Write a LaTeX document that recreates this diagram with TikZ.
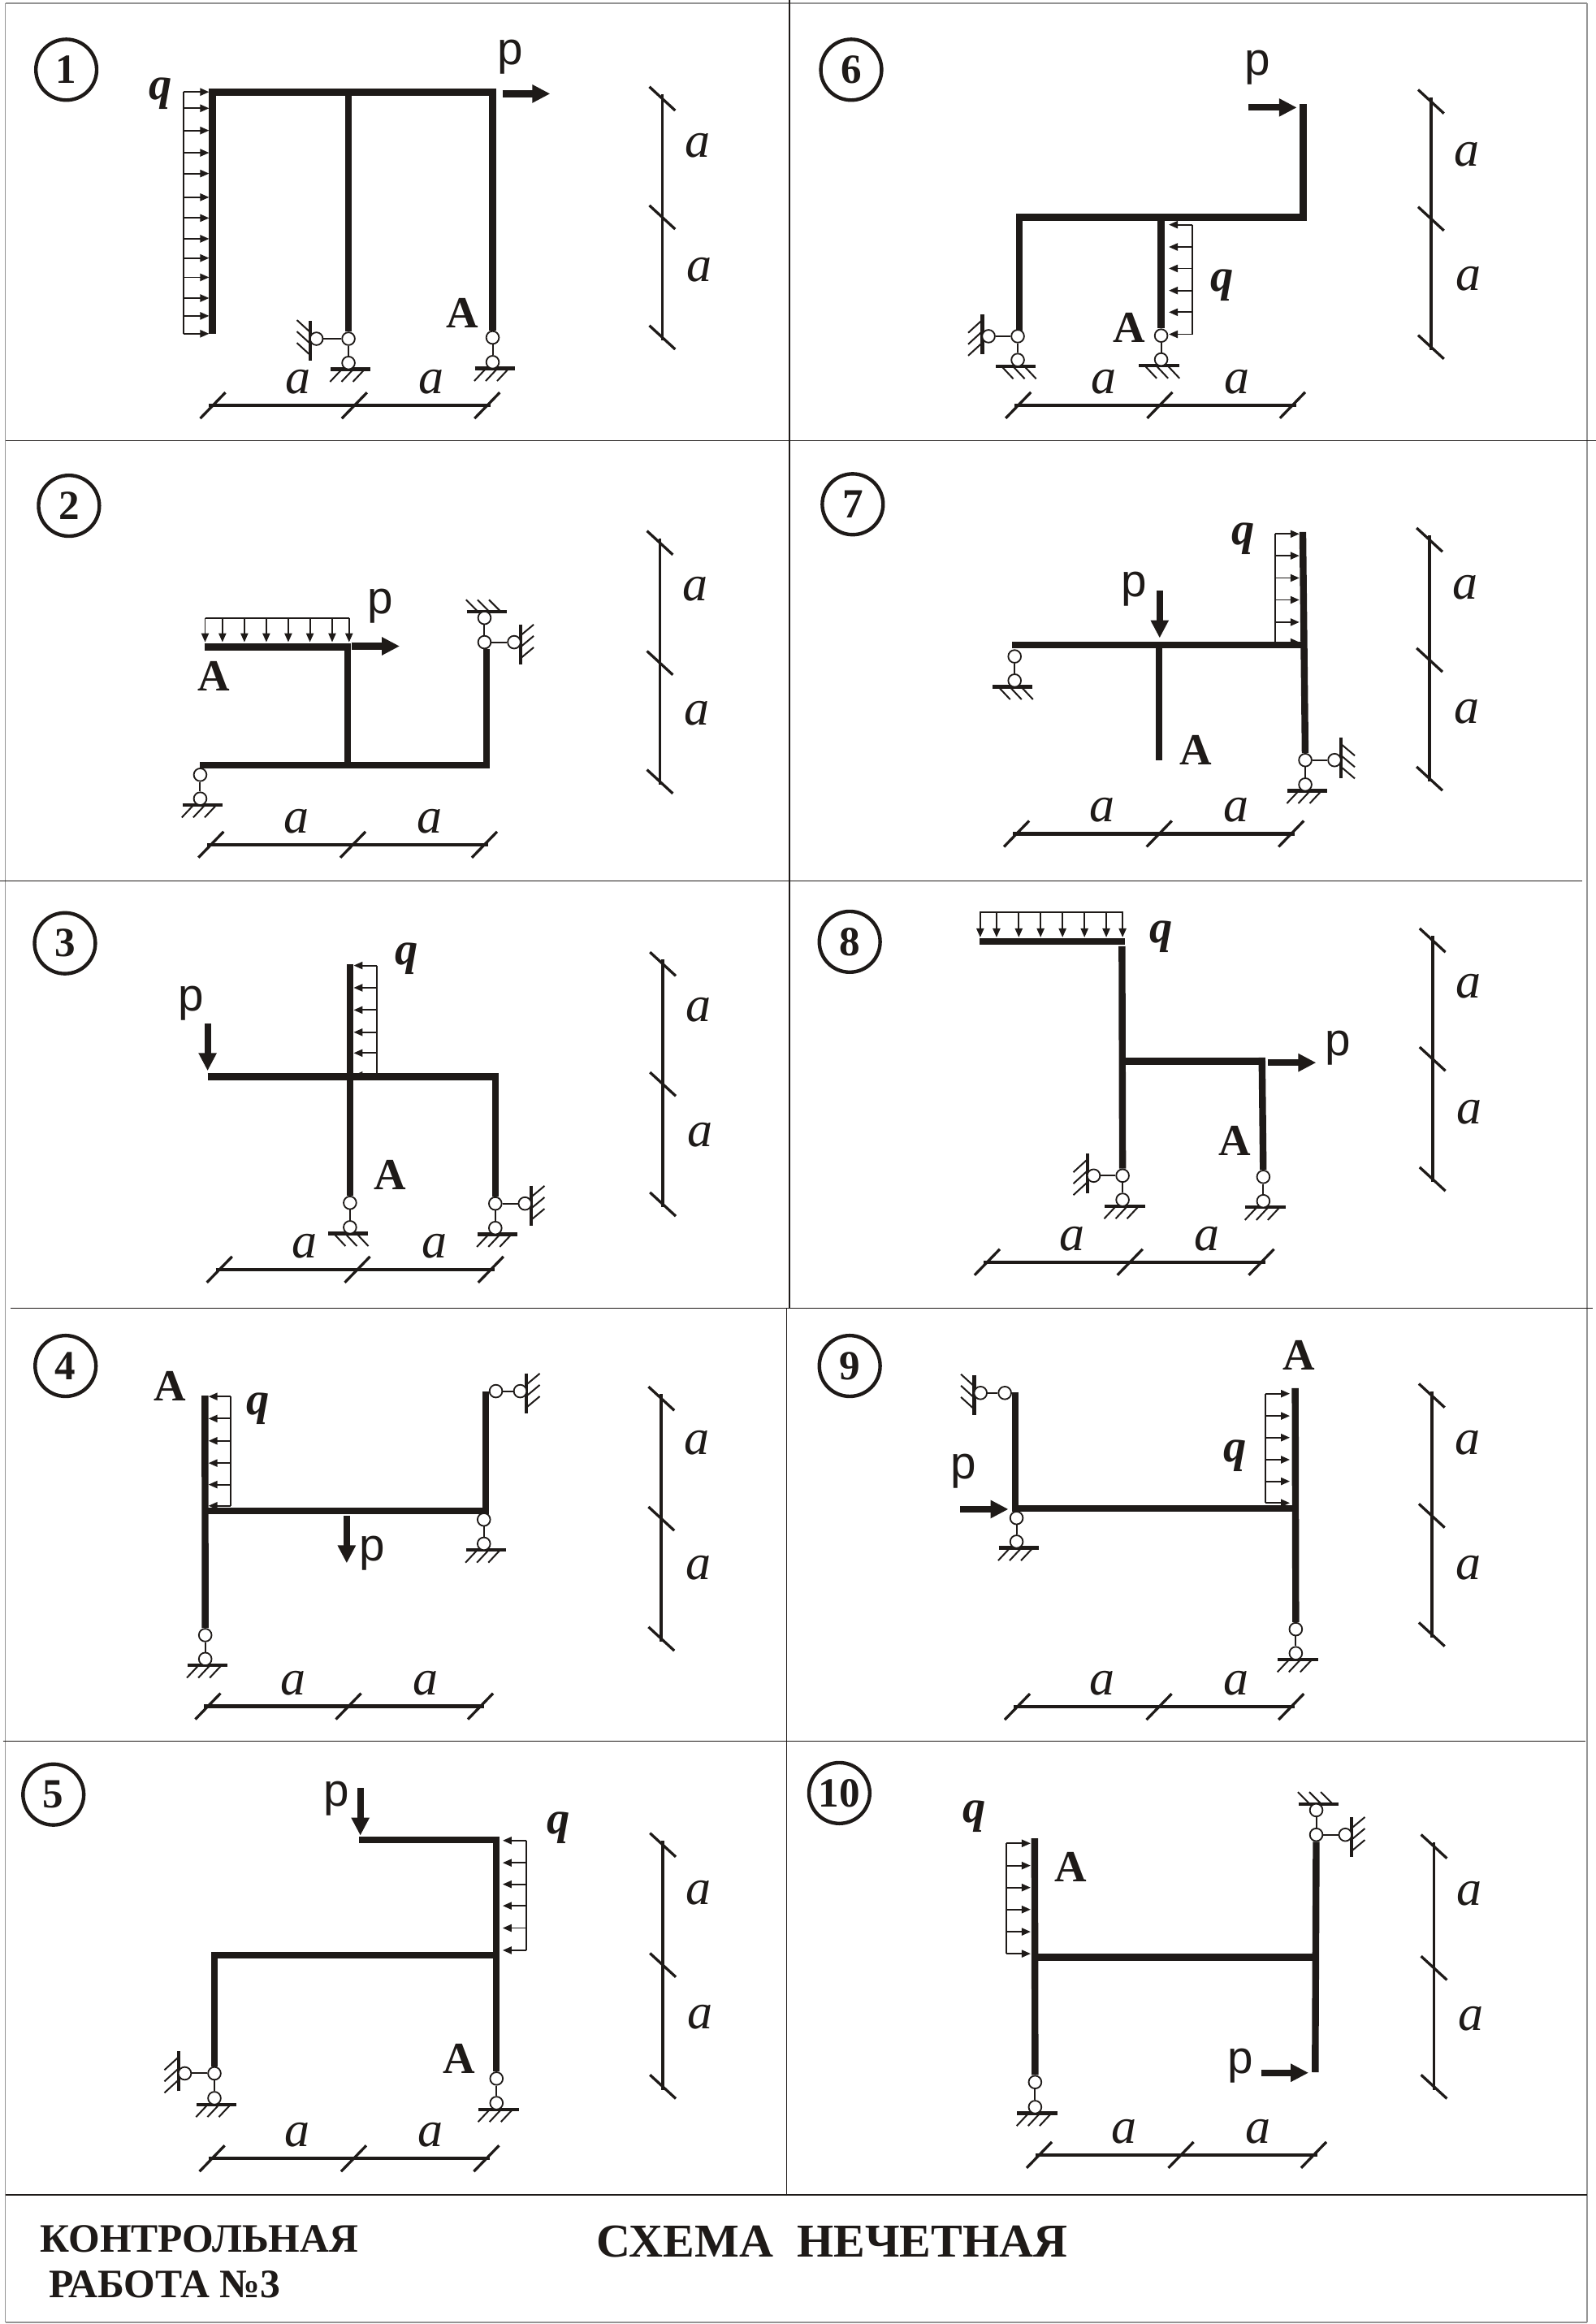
\documentclass[tikz,border=0pt]{standalone}
\usepackage{fontspec}
\setmainfont{Liberation Serif}
\newfontfamily\arialfont{Liberation Sans}
\usetikzlibrary{calc,arrows.meta}

\definecolor{ink}{HTML}{1E1A18}
\tikzset{
	frameline/.style={line width=.8pt,draw=ink},
	edgeline/.style={line width=1pt,draw=black!42},
	bar/.style={line width=4.6pt,draw=ink,line join=miter},
	hinge/.style={circle,draw=ink,fill=white,minimum size=8.6pt,inner sep=0pt,line width=1pt},
	link/.style={line width=1.1pt,draw=ink},
	ground/.style={line width=2.3pt,draw=ink},
	hatch/.style={line width=1.1pt,draw=ink},
	force/.style={line width=4.5pt,draw=ink,-{Triangle[length=12pt,width=11.5pt]},fill=ink},
	qarrow/.style={line width=1pt,draw=ink,-{Triangle[length=6pt,width=5pt]},fill=ink},
	qedge/.style={line width=1pt,draw=ink},
	dimh/.style={line width=2.4pt,draw=ink},
	dimv/.style={line width=2pt,draw=ink},
	dimtick/.style={line width=1.8pt,draw=ink},
	numcircle/.style={circle,draw=ink,line width=2.4pt,minimum size=41pt,inner sep=0pt,text=ink,font=\fontsize{28}{30}\selectfont\bfseries},
	lenlabel/.style={inner sep=0pt,yshift=-1pt,text=ink,font=\fontsize{34}{36}\selectfont\itshape},
	qlabel/.style={inner sep=0pt,yshift=-2.5pt,text=ink,font=\fontsize{31}{33}\selectfont\bfseries\itshape},
	plabel/.style={inner sep=0pt,yshift=-2.5pt,text=ink,font=\fontsize{31}{33}\selectfont\arialfont},
	alabel/.style={inner sep=0pt,text=ink,font=\fontsize{30}{32}\selectfont\bfseries},
	titlelabel/.style={inner sep=0pt,anchor=base west,text=ink,font=\bfseries}
}

% far hinge, base hinge, direction, length, along the ground, hatch
\newcommand{\support}[9]{
	\coordinate (#1c) at ($(#2)+#5*(#3,#4)$);
	\coordinate (#1g) at ($(#1c)+4.2*(#3,#4)$);
	\draw[ground] ($(#1g)-12*(#6,#7)$) -- ($(#1g)+15*(#6,#7)$);
	\foreach \hh in {-4.4,3.3,11}
		\draw[hatch] ($(#1g)+\hh*(#6,#7)$) -- ++(#8,#9);
	\node[hinge] (#1) at (#1c) {};
	\draw[link] (#2) -- (#1);
}
\newcommand{\supDl}[3]{\support{#1}{#2}{0}{1}{#3}{1}{0}{-8}{8.5}}
\newcommand{\supDr}[3]{\support{#1}{#2}{0}{1}{#3}{-1}{0}{8}{8.5}}
\newcommand{\supLd}[3]{\support{#1}{#2}{-1}{0}{#3}{0}{-1}{-9.5}{8.7}}
\newcommand{\supLu}[3]{\support{#1}{#2}{-1}{0}{#3}{0}{1}{-9}{-8.2}}
\newcommand{\supRu}[3]{\support{#1}{#2}{1}{0}{#3}{0}{1}{9}{-7.5}}
\newcommand{\supRd}[3]{\support{#1}{#2}{1}{0}{#3}{0}{-1}{9.5}{8}}
\newcommand{\supT}[3]{\support{#1}{#2}{0}{-1}{#3}{1}{0}{-8}{-8}}

% lower dimension line: name, three ticks, height
\newcommand{\dimH}[5]{
	\coordinate (#1a) at (#2,#5);
	\coordinate (#1b) at (#3,#5);
	\coordinate (#1c) at (#4,#5);
	\draw[dimh] ($(#1a)+(-2.5,0)$) -- ($(#1c)+(2.5,0)$);
	\foreach \pp in {#1a,#1b,#1c}
		\draw[dimtick] ($(\pp)+(-8.5,8.75)$) -- ($(\pp)+(8.5,-8.75)$);
	\node[lenlabel] (#1l) at ($(#1a)+(57.5,-16.8)$) {a};
	\node[lenlabel] (#1r) at ($(#1b)+(52,-16.8)$) {a};
}
% side dimension line: name, x, three ticks, two label heights
\newcommand{\dimV}[7]{
	\coordinate (#1a) at (#2,#3);
	\coordinate (#1b) at (#2,#4);
	\coordinate (#1c) at (#2,#5);
	\draw[dimv] ($(#1a)+(0,-3)$) -- ($(#1c)+(0,2)$);
	\foreach \pp in {#1a,#1b,#1c}
		\draw[dimtick] ($(\pp)+(-8.7,-8)$) -- ($(\pp)+(8.7,8)$);
	\node[lenlabel] (#1l) at ({#2+24},#6) {a};
	\node[lenlabel] (#1r) at ({#2+25},#7) {a};
}
% load on a column: outer x, tip x, first y, last y, arrows
\newcommand{\loadH}[5]{
	\draw[qedge] (#1,#3) -- (#1,#4);
	\foreach \yy in {#5}
		\draw[qarrow] (#1,\yy) -- (#2,\yy);
}
% load on a beam: outer y, tip y, first x, last x, arrows
\newcommand{\loadV}[5]{
	\draw[qedge] (#3,#1) -- (#4,#1);
	\foreach \xx in {#5}
		\draw[qarrow] (\xx,#1) -- (\xx,#2);
}

\begin{document}
\begin{tikzpicture}[x=1pt,y=-1pt]
	\useasboundingbox (0,0) rectangle (1076,1567);

	% sheet
	\draw[edgeline] (3.6,2) -- (1070,2);
	\draw[edgeline] (3.6,2) -- (3.6,1566);
	\draw[edgeline] (1070,2) -- (1070,1566);
	\draw[edgeline,line width=1.4pt] (3.6,1566) -- (1070,1566);
	\draw[frameline] (532.3,0) -- (532.3,882);
	\draw[frameline] (530.5,882) -- (530.5,1480);
	\draw[frameline] (4,297) -- (1076,297);
	\draw[frameline] (0,594) -- (1067,594);
	\draw[frameline] (7.3,882) -- (1074,882);
	\draw[frameline] (2,1174) -- (1069,1174);
	\draw[frameline,line width=1.3pt] (3.6,1480) -- (1070,1480);

	% 1
	\node[numcircle] (N1) at (44.7,47) {1};
	\coordinate (A1) at (143.2,225);
	\coordinate (B1) at (143.2,62.2);
	\coordinate (C1) at (332.2,62.2);
	\coordinate (D1) at (235,62.2);
	\node[hinge] (H1a) at (235,228.4) {};
	\node[hinge] (H1b) at (332.2,227.6) {};
	\draw[bar] (A1) -- (B1) -- ($(C1)+(2.2,0)$);
	\draw[bar] (D1) -- (H1a);
	\draw[bar] (C1) -- (H1b);
	\supDl{S1a}{H1a}{16.3}
	\supLu{S1b}{H1a}{21.6}
	\supDl{S1c}{H1b}{16.6}
	\loadH{124}{141}{62}{225}{62,73,88,103,117,133,147,161,174,187,201,213,225}
	\coordinate (F1a) at (339,63.2);
	\coordinate (F1b) at (371,63.2);
	\draw[force] (F1a) -- (F1b);
	\node[qlabel] (Q1) at (108,60.7) {q};
	\node[plabel] (P1) at (344,36) {p};
	\node[alabel] (L1) at (311.6,211.3) {A};
	\dimH{X1}{143.5}{239}{328.5}{273.4}
	\dimV{Y1}{446.6}{66.5}{146.5}{227.5}{97}{181}

	% 2
	\node[numcircle] (N2) at (46.5,341) {2};
	\coordinate (A2) at (138,436.3);
	\coordinate (B2) at (234.5,436.3);
	\coordinate (C2) at (234.5,516);
	\coordinate (D2) at (135,516);
	\coordinate (E2) at (328,516);
	\node[hinge] (H2a) at (135,522.4) {};
	\node[hinge] (H2b) at (326.7,433) {};
	\draw[bar] (A2) -- (B2) -- (C2);
	\draw[bar] (D2) -- ($(E2)+(2.2,0)$);
	\draw[bar] (E2) -- (328,437.5);
	\supDl{S2a}{H2a}{16.1}
	\supT{S2b}{H2b}{16.4}
	\supRu{S2c}{H2b}{20}
	\loadV{416.6}{433}{138.3}{235.4}{138.3,150,164.8,179.6,194.4,209,224,235.4}
	\coordinate (F2a) at (237,435.7);
	\coordinate (F2b) at (269.5,435.7);
	\draw[force] (F2a) -- (F2b);
	\node[plabel] (P2) at (256.4,406) {p};
	\node[alabel] (L2) at (144,456) {A};
	\dimH{X2}{142.3}{238}{326.7}{569.5}
	\dimV{Y2}{445}{366}{447}{527}{396}{480}

	% 3
	\node[numcircle] (N3) at (43.8,636) {3};
	\coordinate (A3) at (140,726);
	\coordinate (B3) at (334,726);
	\coordinate (C3) at (236,650);
	\coordinate (D3) at (236,726);
	\node[hinge] (H3a) at (236,811) {};
	\node[hinge] (H3b) at (334,811.5) {};
	\draw[bar] (A3) -- ($(B3)+(2.2,0)$);
	\draw[bar] (B3) -- (H3b);
	\draw[bar] (C3) -- (H3a);
	\supDr{S3a}{H3a}{16.5}
	\supDl{S3b}{H3b}{16.5}
	\supRu{S3c}{H3b}{20}
	\loadH{254}{238.5}{651}{725}{651,666,681,696,710,725}
	\coordinate (F3a) at (140,690);
	\coordinate (F3b) at (140,722);
	\draw[force] (F3a) -- (F3b);
	\node[qlabel] (Q3) at (274,644) {q};
	\node[plabel] (P3) at (129,674) {p};
	\node[alabel] (L3) at (263,792) {A};
	\dimH{X3}{148}{241}{331}{856}
	\dimV{Y3}{447}{650}{731}{812}{680}{764}

	% 4
	\node[numcircle] (N4) at (44.2,921) {4};
	\coordinate (A4) at (138.2,941);
	\coordinate (B4) at (138.2,1018.8);
	\coordinate (C4) at (327.6,1018.8);
	\coordinate (D4) at (327.6,938.3);
	\node[hinge] (H4a) at (138.4,1102.5) {};
	\node[hinge] (H4b) at (326.3,1024.6) {};
	\node[hinge] (H4c) at (334.4,938) {};
	\draw[bar] (A4) -- (H4a);
	\draw[bar] (B4) -- (C4);
	\draw[bar] ($(C4)+(0,2.2)$) -- (D4);
	\supDl{S4a}{H4a}{16.1}
	\supDl{S4b}{H4b}{16.3}
	\supRu{S4c}{H4c}{16.4}
	\loadH{155.7}{140.6}{941.6}{1015.3}{941.6,956.5,971.5,986.5,1001,1015.3}
	\coordinate (F4a) at (233.8,1021.9);
	\coordinate (F4b) at (233.8,1054);
	\draw[force] (F4a) -- (F4b);
	\node[qlabel] (Q4) at (173.8,947.4) {q};
	\node[plabel] (P4) at (251,1045) {p};
	\node[alabel] (L4) at (114.7,934.6) {A};
	\dimH{X4}{140.2}{235}{324}{1150.5}
	\dimV{Y4}{446}{943}{1024}{1105}{972}{1056}

	% 5
	\node[numcircle] (N5) at (36,1210) {5};
	\coordinate (A5) at (242,1240.4);
	\coordinate (B5) at (334.8,1240.4);
	\coordinate (C5) at (143.6,1318.3);
	\coordinate (D5) at (334.8,1318.3);
	\node[hinge] (H5a) at (144.6,1398) {};
	\node[hinge] (H5b) at (334.8,1401.5) {};
	\draw[bar] (A5) -- ($(B5)+(2.2,0)$);
	\draw[bar] (B5) -- (H5b);
	\draw[bar] (D5) -- (C5);
	\draw[bar] (144.6,1316) -- (H5a);
	\supDl{S5a}{H5a}{16.7}
	\supLd{S5b}{H5a}{20}
	\supDl{S5c}{H5b}{16.5}
	\loadH{355}{339}{1241}{1315}{1241,1256,1270.5,1285,1300,1315}
	\coordinate (F5a) at (243,1205.7);
	\coordinate (F5b) at (243,1237.6);
	\draw[force] (F5a) -- (F5b);
	\node[qlabel] (Q5) at (376.5,1230) {q};
	\node[plabel] (P5) at (227,1210) {p};
	\node[alabel] (L5) at (309.6,1388) {A};
	\dimH{X5}{143}{238.5}{328}{1455.4}
	\dimV{Y5}{447}{1244}{1325}{1407}{1275}{1359}

	% 6
	\node[numcircle] (N6) at (574,47) {6};
	\coordinate (A6) at (878.9,70.3);
	\coordinate (B6) at (878.9,146.6);
	\coordinate (C6) at (685.4,146.6);
	\coordinate (D6) at (783,146.6);
	\node[hinge] (H6a) at (686.3,226.7) {};
	\node[hinge] (H6b) at (783,226.3) {};
	\draw[bar] (A6) -- ($(B6)+(0,2.2)$);
	\draw[bar] ($(B6)+(2.2,0)$) -- (C6);
	\draw[bar] (687.4,144.4) -- (687.4,222.7);
	\draw[bar] (D6) -- (H6b);
	\supDr{S6a}{H6a}{16}
	\supLd{S6b}{H6a}{19.7}
	\supDr{S6c}{H6b}{16.1}
	\loadH{804}{788.2}{151.5}{225.4}{151.5,166.5,181,195.9,210.5,225.4}
	\coordinate (F6a) at (842,72.5);
	\coordinate (F6b) at (874.5,72.5);
	\draw[force] (F6a) -- (F6b);
	\node[qlabel] (Q6) at (824,190) {q};
	\node[plabel] (P6) at (848,43) {p};
	\node[alabel] (L6) at (761.5,221) {A};
	\dimH{X6}{686.7}{782.1}{871.6}{273.2}
	\dimV{Y6}{965}{68.5}{147.5}{234}{103}{187}

	% 7
	\node[numcircle] (N7) at (575,340) {7};
	\coordinate (A7) at (682.7,435);
	\coordinate (B7) at (878.9,435);
	\coordinate (C7) at (781.5,435);
	\coordinate (D7) at (781.5,512.9);
	\coordinate (E7) at (878.5,358.7);
	\node[hinge] (H7a) at (684.2,442.6) {};
	\node[hinge] (H7b) at (880.2,512.5) {};
	\draw[bar] (A7) -- (B7);
	\draw[bar] (C7) -- (D7);
	\draw[bar] (E7) -- (H7b);
	\supDr{S7a}{H7a}{16.3}
	\supDl{S7b}{H7b}{16.5}
	\supRd{S7c}{H7b}{19.7}
	\loadH{859.8}{876.2}{360}{434}{360,374.7,389.7,404.5,419.5,433}
	\coordinate (F7a) at (782,398.3);
	\coordinate (F7b) at (782,430.2);
	\draw[force] (F7a) -- (F7b);
	\node[qlabel] (Q7) at (838.2,360.5) {q};
	\node[plabel] (P7) at (764.9,394.6) {p};
	\node[alabel] (L7) at (806.3,505.6) {A};
	\dimH{X7}{685.5}{781.7}{870.7}{562.2}
	\dimV{Y7}{964}{364}{445}{525}{395}{479}

	% 8
	\node[numcircle] (N8) at (573,635) {8};
	\coordinate (A8) at (660.8,634.9);
	\coordinate (B8) at (758.4,634.9);
	\coordinate (C8) at (756.6,638);
	\coordinate (D8) at (756.6,715.5);
	\coordinate (E8) at (852.8,715.5);
	\coordinate (G8) at (851,713);
	\node[hinge] (H8a) at (757,792.7) {};
	\node[hinge] (H8b) at (851.9,793.5) {};
	\draw[bar] (A8) -- (B8);
	\draw[bar] (C8) -- (H8a);
	\draw[bar] (D8) -- (E8);
	\draw[bar] (G8) -- (H8b);
	\supDl{S8a}{H8a}{16.3}
	\supLd{S8b}{H8a}{19.5}
	\supDl{S8c}{H8b}{16.4}
	\loadV{615.2}{632}{660.8}{757.5}{661,672,687,701.7,716.5,731.3,746,757}
	\coordinate (F8a) at (855,716.5);
	\coordinate (F8b) at (887.5,716.5);
	\draw[force] (F8a) -- (F8b);
	\node[qlabel] (Q8) at (783,628.9) {q};
	\node[plabel] (P8) at (902,704) {p};
	\node[alabel] (L8) at (832.4,769.4) {A};
	\dimH{X8}{665.7}{762}{850.6}{851}
	\dimV{Y8}{966}{634}{714}{795}{664}{749}

	% 9
	\node[numcircle] (N9) at (573,921) {9};
	\coordinate (A9) at (684.5,938.6);
	\coordinate (B9) at (684.5,1017);
	\coordinate (C9) at (873.4,1017);
	\coordinate (D9) at (873.4,936);
	\node[hinge] (H9a) at (677.6,939.2) {};
	\node[hinge] (H9b) at (685.5,1023.5) {};
	\node[hinge] (H9c) at (873.8,1098.5) {};
	\draw[bar] (A9) -- ($(B9)+(0,2.2)$);
	\draw[bar] (B9) -- (C9);
	\draw[bar] (D9) -- (H9c);
	\supLu{S9a}{H9a}{16.4}
	\supDl{S9b}{H9b}{16}
	\supDl{S9c}{H9c}{16.2}
	\loadH{853.3}{869.8}{939.7}{1013.4}{939.7,954.7,969.3,984.2,998.8,1013.4}
	\coordinate (F9a) at (647.5,1017.6);
	\coordinate (F9b) at (680,1017.6);
	\draw[force] (F9a) -- (F9b);
	\node[qlabel] (Q9) at (833,979) {q};
	\node[plabel] (P9) at (649.5,989.3) {p};
	\node[alabel] (L9) at (876.2,913.6) {A};
	\dimH{X9}{686}{781.6}{870.7}{1150.8}
	\dimV{Y9}{965.5}{941}{1022}{1102}{972}{1056}

	% 10
	\node[numcircle] (N10) at (566,1209) {10};
	\coordinate (A10) at (697.7,1239.5);
	\coordinate (B10) at (697.7,1319.8);
	\coordinate (C10) at (886.9,1319.8);
	\coordinate (D10) at (886.9,1397.2);
	\node[hinge] (H10a) at (698,1403.9) {};
	\node[hinge] (H10b) at (887.6,1237.1) {};
	\draw[bar] (A10) -- (H10a);
	\draw[bar] (B10) -- (C10);
	\draw[bar] (H10b) -- (D10);
	\supDl{S10a}{H10a}{16.8}
	\supT{S10b}{H10b}{16.6}
	\supRu{S10c}{H10b}{19.6}
	\loadH{678.4}{695}{1242.9}{1317.3}{1242.9,1257.9,1272.7,1287.5,1302.5,1317.3}
	\coordinate (F10a) at (850.4,1397.6);
	\coordinate (F10b) at (882.4,1397.6);
	\draw[force] (F10a) -- (F10b);
	\node[qlabel] (Q10) at (657,1222) {q};
	\node[plabel] (P10) at (836.7,1390.3) {p};
	\node[alabel] (L10) at (721.8,1259) {A};
	\dimH{X10}{700.8}{796.4}{885.9}{1453}
	\dimV{Y10}{967}{1245}{1327}{1407}{1276}{1360}

	% titles
	\node[titlelabel,font=\fontsize{27.2}{30}\selectfont\bfseries] (T1) at (27,1518.6) {КОНТРОЛЬНАЯ};
	\node[titlelabel,font=\fontsize{27.2}{30}\selectfont\bfseries] (T2) at (33,1549) {РАБОТА №3};
	\node[titlelabel,font=\fontsize{31.8}{34}\selectfont\bfseries] (T3) at (402,1522) {СХЕМА\ \ НЕЧЕТНАЯ};
\end{tikzpicture}
\end{document}
